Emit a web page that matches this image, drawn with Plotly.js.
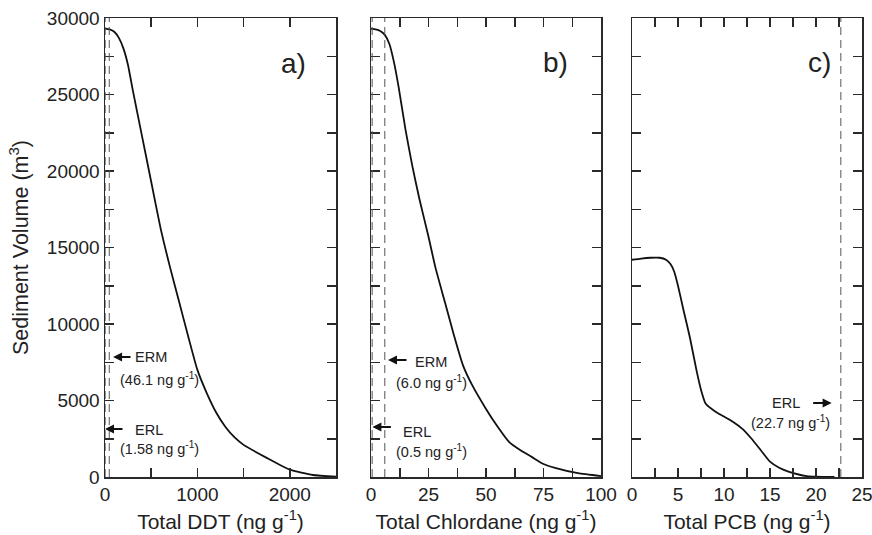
<!DOCTYPE html>
<html>
<head>
<meta charset="utf-8">
<script src="https://cdn.plot.ly/plotly-3.0.1.min.js"></script>
<style>html,body{margin:0;padding:0;background:#fff;}#chart{width:872px;height:535px;}</style>
</head>
<body>
<div id="chart"></div>
<script>
// Panel a: Total DDT (ng g-1) vs sediment volume (m3)
const ddtX = [0, 50, 100, 150, 200, 250, 300, 400, 500, 600, 700, 800, 900, 1000, 1100, 1200, 1300, 1400, 1500, 1750, 2000, 2250, 2500];
const ddtY = [29300, 29250, 29100, 28700, 28000, 26900, 25300, 22300, 19300, 16300, 13800, 11500, 9200, 7000, 5500, 4250, 3300, 2600, 2100, 1250, 480, 130, 20];
// Panel b: Total Chlordane
const chlX = [0, 2, 4, 6, 8, 10, 12, 15, 18, 21, 25, 28, 32, 36, 40, 44, 50, 55, 60, 65, 70, 75, 80, 90, 100];
const chlY = [29300, 29250, 29150, 28900, 28300, 27100, 25500, 22700, 20300, 18200, 15700, 13700, 11500, 9300, 7300, 6000, 4450, 3300, 2300, 1750, 1300, 850, 600, 250, 60];
// Panel c: Total PCB
const pcbX = [0, 1, 2, 3, 3.7, 4.2, 4.6, 5, 5.6, 6.3, 7, 7.5, 8, 9, 10, 11, 12, 13, 14, 15, 16, 17, 18, 19, 20, 22];
const pcbY = [14200, 14280, 14330, 14330, 14200, 13900, 13400, 12500, 10900, 9100, 7000, 5700, 4800, 4300, 3950, 3600, 3150, 2500, 1750, 1000, 600, 350, 180, 60, 20, 0];

// Guideline values (ng g-1)
const ddtGuides = [1.58, 46.1];
const chlGuides = [0.5, 6.0];
const pcbGuides = [22.7];

// Tick labels
const yTickVals = [0, 2500, 5000, 7500, 10000, 12500, 15000, 17500, 20000, 22500, 25000, 27500, 30000];
const yTickText = ['0', '', '5000', '', '10000', '', '15000', '', '20000', '', '25000', '', '30000'];
const ddtTickVals = [0, 500, 1000, 1500, 2000, 2500];
const ddtTickText = ['0', '', '1000', '', '2000', ''];
const chlTickVals = [0, 12.5, 25, 37.5, 50, 62.5, 75, 87.5, 100];
const chlTickText = ['0', '', '25', '', '50', '', '75', '', '100'];
const pcbTickVals = [0, 2.5, 5, 7.5, 10, 12.5, 15, 17.5, 20, 22.5, 25];
const pcbTickText = ['0', '', '5', '', '10', '', '15', '', '20', '', '25'];

const FONT = 'Liberation Sans, Arial, Helvetica, sans-serif';
const AX = '#2a2a2a';

function lineTrace(x, y, xa, ya) {
  return {x: x, y: y, xaxis: xa, yaxis: ya, type: 'scatter', mode: 'lines',
    line: {color: '#111', width: 1.8, shape: 'spline', smoothing: 0.5},
    hoverinfo: 'skip', showlegend: false};
}

const data = [
  lineTrace(ddtX, ddtY, 'x', 'y'),
  lineTrace(chlX, chlY, 'x2', 'y2'),
  lineTrace(pcbX, pcbY, 'x3', 'y3')
];

function xAxis(domain, range, tv, tt, title, anchor) {
  return {domain: domain, range: range, anchor: anchor, tickvals: tv, ticktext: tt,
    ticks: 'inside', ticklen: 9, tickwidth: 1.5, tickcolor: AX,
    showline: true, linecolor: AX, linewidth: 1.5, mirror: 'ticks',
    showgrid: false, zeroline: false, fixedrange: true, ticklabeloverflow: 'allow',
    tickfont: {family: FONT, size: 19, color: '#222'},
    title: {text: title, font: {family: FONT, size: 21, color: '#222'}, standoff: 10}};
}
function yAxis(anchor, labels) {
  return {domain: [0, 1], range: [0, 30000], anchor: anchor, tickvals: yTickVals,
    ticktext: labels ? yTickText : yTickVals.map(() => ''),
    ticks: 'inside', ticklen: 9, tickwidth: 1.5, tickcolor: AX,
    showline: true, linecolor: AX, linewidth: 1.5, mirror: 'ticks',
    showgrid: false, zeroline: false, fixedrange: true, ticklabeloverflow: 'allow',
    tickfont: {family: FONT, size: 19, color: '#222'},
    title: labels ? {text: 'Sediment Volume (m<sup>3</sup>)', font: {family: FONT, size: 21.5, color: '#222'}, standoff: 12} : {text: ''}};
}

const shapes = [];
function guides(vals, xref, yref) {
  vals.forEach(v => shapes.push({type: 'line', xref: xref, yref: yref, x0: v, x1: v, y0: 0, y1: 30000,
    line: {color: '#555', width: 1, dash: '8px,5px'}}));
}
guides(ddtGuides, 'x', 'y');
guides(chlGuides, 'x2', 'y2');
guides(pcbGuides, 'x3', 'y3');

const annotations = [];
function arrow(xref, yref, x, y, ax) {
  annotations.push({xref: xref, yref: yref, x: x, y: y, ax: ax, ay: 0, text: '', showarrow: true,
    arrowhead: 2, arrowsize: 1, arrowwidth: 1.8, arrowcolor: '#111', standoff: 0});
}
function label(xref, yref, x, y, text, size) {
  annotations.push({xref: xref, yref: yref, x: x, y: y, text: text, showarrow: false,
    xanchor: 'center', yanchor: 'middle', font: {family: FONT, size: size || 14.5, color: '#222'}});
}
// Panel a
arrow('x', 'y', 87, 7843, 19);
label('x', 'y', 503, 7843, 'ERM');
label('x', 'y', 590, 6400, '(' + ddtGuides[1] + ' ng g<sup>-1</sup>)');
arrow('x', 'y', 0, 3137, 19);
label('x', 'y', 476, 3100, 'ERL');
label('x', 'y', 585, 1900, '(' + ddtGuides[0] + ' ng g<sup>-1</sup>)');
label('x', 'y', 2045, 27059, 'a)', 28);
// Panel b
arrow('x2', 'y2', 7.4, 7647, 20);
label('x2', 'y2', 26.1, 7516, 'ERM');
label('x2', 'y2', 26.4, 6200, '(6.0 ng g<sup>-1</sup>)');
arrow('x2', 'y2', 0.6, 3268, 20);
label('x2', 'y2', 20, 2941, 'ERL');
label('x2', 'y2', 26.4, 1700, '(0.5 ng g<sup>-1</sup>)');
label('x2', 'y2', 80.4, 27124, 'b)', 28);
// Panel c
arrow('x3', 'y3', 21.7, 4837, -20);
label('x3', 'y3', 16.7, 4837, 'ERL');
label('x3', 'y3', 17.2, 3600, '(' + pcbGuides[0] + ' ng g<sup>-1</sup>)');
label('x3', 'y3', 20.4, 27124, 'c)', 28);

const layout = {
  width: 872, height: 535,
  margin: {l: 0, r: 0, t: 18, b: 58},
  paper_bgcolor: '#fff', plot_bgcolor: '#fff',
  font: {family: FONT, color: '#222'},
  showlegend: false,
  xaxis: xAxis([105/872, 336/872], [0, 2500], ddtTickVals, ddtTickText, 'Total DDT (ng g<sup>-1</sup>)', 'y'),
  xaxis2: xAxis([371/872, 601/872], [0, 100], chlTickVals, chlTickText, 'Total Chlordane (ng g<sup>-1</sup>)', 'y2'),
  xaxis3: xAxis([632/872, 862/872], [0, 25], pcbTickVals, pcbTickText, 'Total PCB (ng g<sup>-1</sup>)', 'y3'),
  yaxis: yAxis('x', true),
  yaxis2: yAxis('x2', false),
  yaxis3: yAxis('x3', false),
  shapes: shapes,
  annotations: annotations
};

Plotly.newPlot('chart', data, layout, {displayModeBar: false, staticPlot: true});
</script>
</body>
</html>
